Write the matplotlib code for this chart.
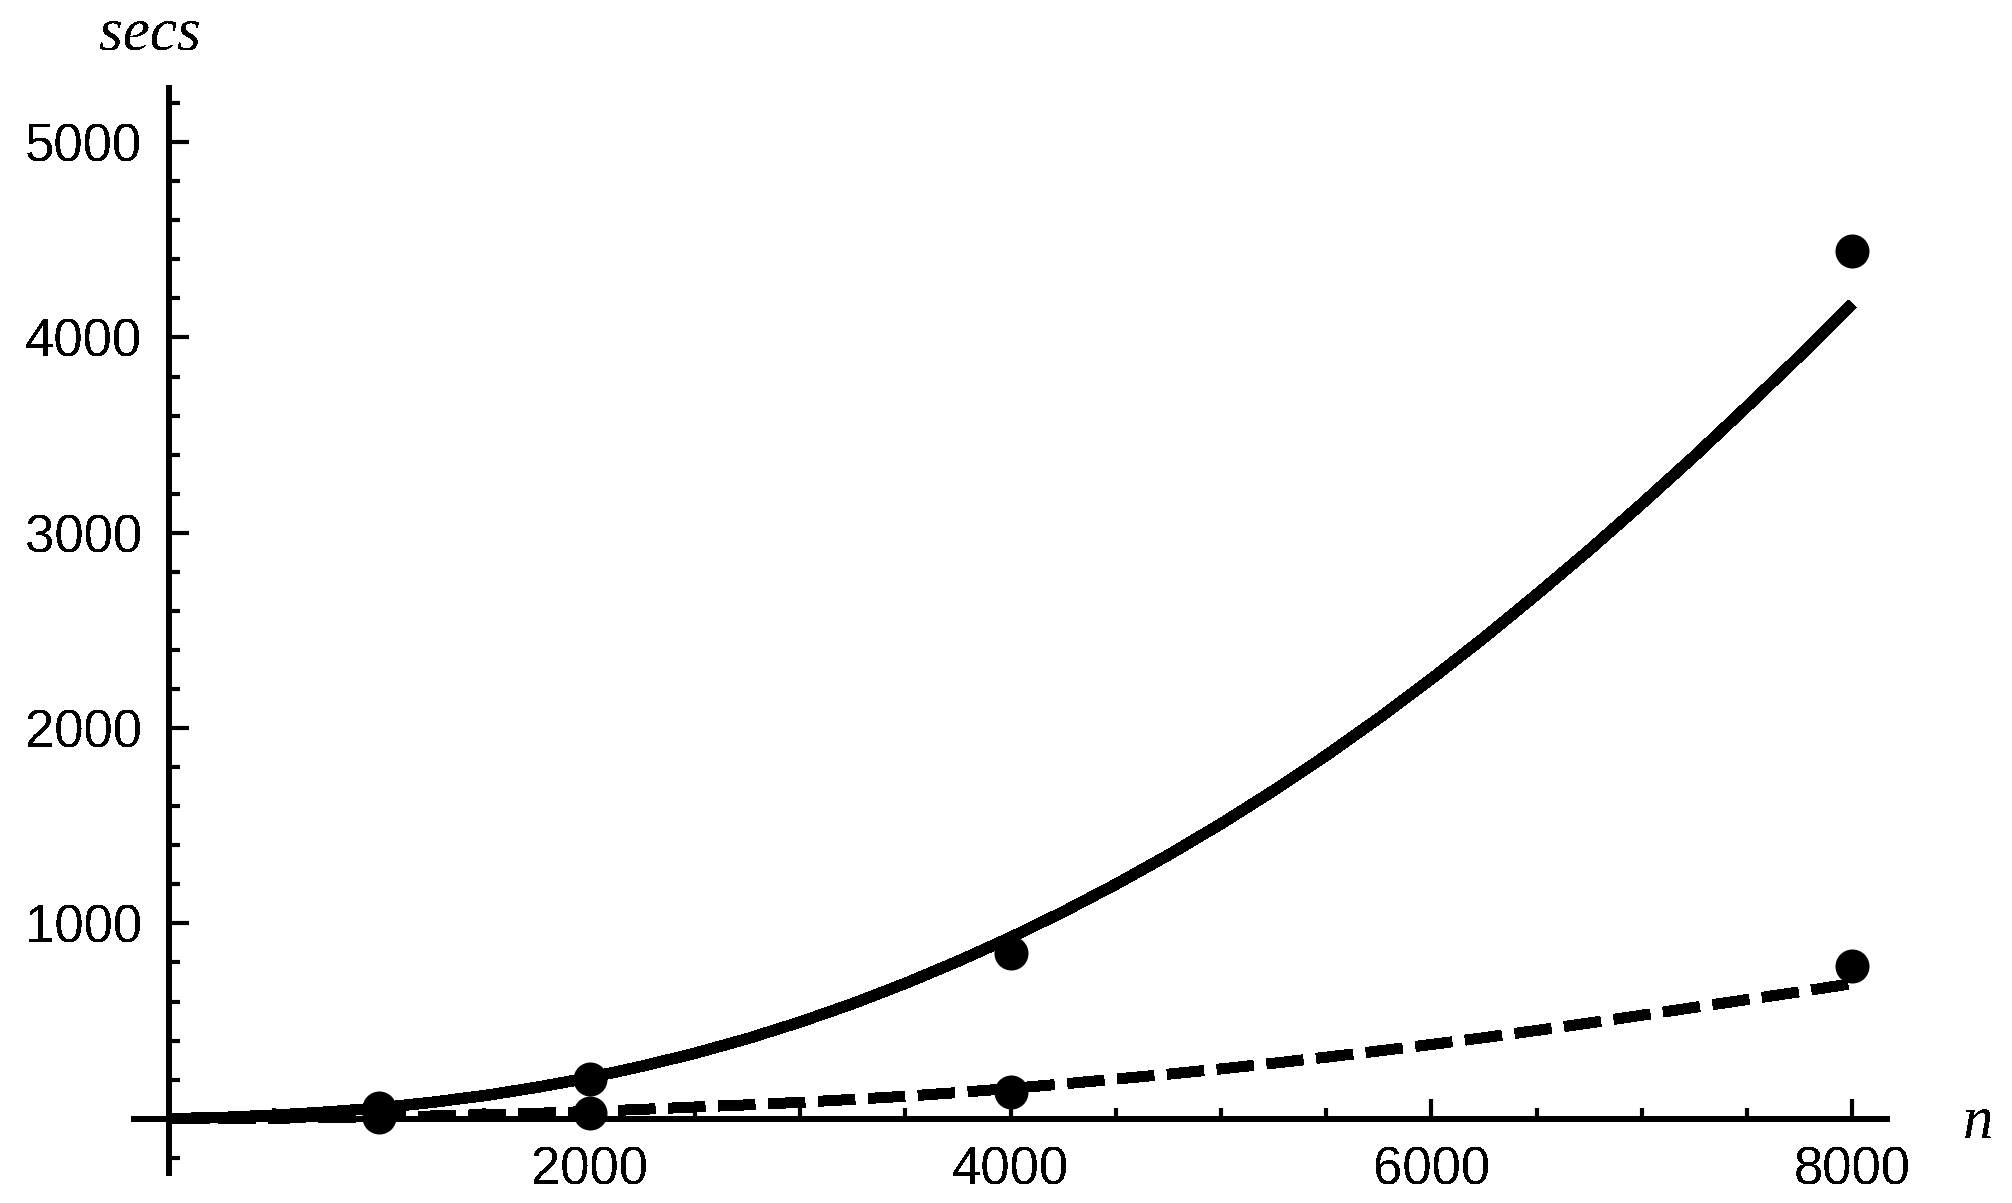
import matplotlib
matplotlib.use("Agg")
import matplotlib.pyplot as plt
from matplotlib.ticker import MultipleLocator

plt.rcParams["text.antialiased"] = False

# measured timings (seconds) at matrix size n
n_pts = [1000, 2000, 4000, 8000]
secs_a = [55, 205, 850, 4445]     # solid series
secs_b = [7, 31, 139, 781]        # dashed series

# fitted curves, every 250
n_fit = [0, 250, 500, 750, 1000, 1250, 1500, 1750, 2000, 2250, 2500,
         2750, 3000, 3250, 3500, 3750, 4000, 4250, 4500, 4750, 5000,
         5250, 5500, 5750, 6000, 6250, 6500, 6750, 7000, 7250, 7500,
         7750, 8000]
fit_a = [0, 6, 18, 34, 55, 84, 118, 161, 210, 269, 335,
         410, 495, 589, 693, 806, 928, 1059, 1200, 1350, 1510,
         1680, 1860, 2051, 2252, 2463, 2684, 2912, 3149, 3393, 3647,
         3905, 4172]
fit_b = [0, 1, 3, 5, 9, 14, 21, 28, 37, 48, 60,
         71, 84, 99, 115, 134, 155, 178, 203, 228, 255,
         284, 315, 347, 380, 415, 452, 490, 530, 570, 610,
         650, 692]

x_major = [2000, 4000, 6000, 8000]
y_major = [1000, 2000, 3000, 4000, 5000]

fig = plt.figure(figsize=(20.12, 12.03), dpi=100)
ax = fig.add_axes([0.0666, 0.0251, 0.8711, 0.9020])

lw = 7.5
ax.plot(n_fit, fit_a, color="black", lw=lw, solid_capstyle="butt",
        solid_joinstyle="round", antialiased=False)
ax.plot(n_fit, fit_b, color="black", lw=lw, dashes=(3.5, 1.3),
        dash_capstyle="butt", antialiased=False)
ax.plot(n_pts, secs_a, "o", color="black", ms=24.5, mew=0, antialiased=False)
ax.plot(n_pts, secs_b, "o", color="black", ms=24.5, mew=0, antialiased=False)

ax.set_xlim(-165, 8163)
ax.set_ylim(-277, 5279)

for s in ["top", "right"]:
    ax.spines[s].set_visible(False)
ax.spines["left"].set_position(("data", 0))
ax.spines["bottom"].set_position(("data", 0))
for s in ["left", "bottom"]:
    ax.spines[s].set_linewidth(3.2)
    ax.spines[s].set_antialiased(False)

ax.set_xticks(x_major)
ax.set_yticks(y_major)
ax.xaxis.set_minor_locator(MultipleLocator(500))
ax.yaxis.set_minor_locator(MultipleLocator(200))
ax.tick_params(which="major", direction="in", length=14.4, width=3.0, pad=19,
               labelsize=38)
ax.tick_params(which="minor", direction="in", length=8, width=3.0)
for lab in ax.get_xticklabels() + ax.get_yticklabels():
    lab.set_family("Liberation Sans")

fig.text(150 / 2012, 1 - 50 / 1203, "secs", ha="center", va="baseline",
         family="Liberation Serif", style="italic", fontsize=44)
fig.text(1978 / 2012, 1 - 1138 / 1203, "n", ha="center", va="baseline",
         family="Liberation Serif", style="italic", fontsize=44)

fig.savefig("out.png", dpi=100)
